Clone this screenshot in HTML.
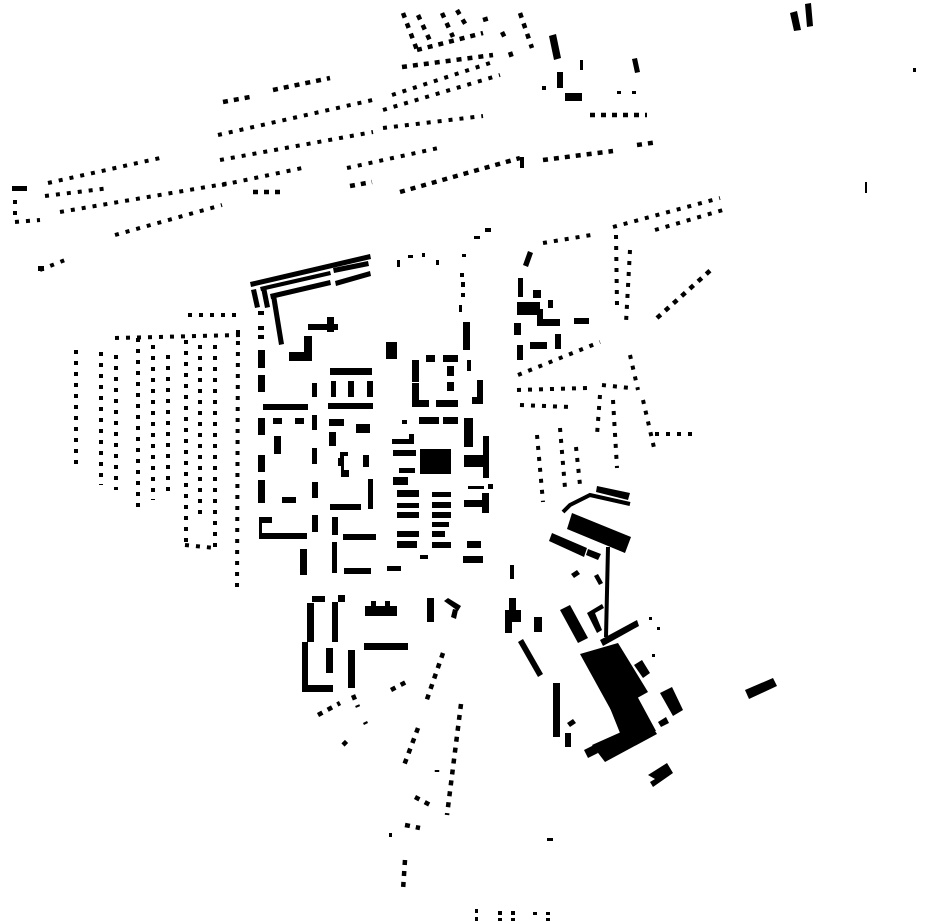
<!DOCTYPE html>
<html><head><meta charset="utf-8"><style>
html,body{margin:0;padding:0;background:#fff;}
svg{display:block}
.d{fill:none;stroke:#000;stroke-width:4.5;stroke-dasharray:5 6}
.s{fill:none;stroke:#000;stroke-width:4;stroke-dasharray:4 7}
.l{fill:none;stroke:#000;stroke-width:4}
</style></head><body>
<svg width="930" height="924" viewBox="0 0 930 924" xmlns="http://www.w3.org/2000/svg">
<g fill="#000">
<polygon points="790,13 797,11 801,30 794,31"/>
<polygon points="805,4 811,3 813,26 807,27"/>
<rect x="913" y="68" width="3" height="4"/>
<rect x="865" y="182" width="2" height="11"/>

<polygon points="549,36 556,34 561,58 554,60"/>
<rect x="557" y="72" width="6" height="16"/>
<rect x="565" y="93" width="17" height="8"/>
<rect x="580" y="60" width="3" height="10"/>
<polygon points="632,59 637,58 640,72 635,73"/>
<rect x="542" y="86" width="4" height="4"/>
<rect x="617" y="91" width="4" height="3"/><rect x="632" y="91" width="4" height="3"/>
<rect x="520" y="157" width="4" height="11"/>

<polygon points="250,282 370,254 371,259 251,287"/>
<polygon points="260,287 330,271 331,275 261,291"/>
<polygon points="333,268 368,261 369,266 334,273"/>
<polygon points="270,294 330,280 331,285 271,299"/>
<polygon points="335,281 370,271 371,276 336,286"/>
<polygon points="251,290 256,289 260,307 255,308"/>
<polygon points="261,288 266,287 270,307 265,308"/>
<polygon points="271,296 276,295 284,344 279,345"/>

<rect x="258" y="311" width="6" height="4"/><rect x="258" y="326" width="6" height="4"/><rect x="258" y="335" width="6" height="4"/>
<rect x="258" y="350" width="7" height="18"/><rect x="258" y="375" width="7" height="17"/>
<rect x="258" y="418" width="7" height="17"/><rect x="258" y="455" width="7" height="17"/><rect x="258" y="480" width="7" height="23"/>
<rect x="259" y="517" width="13" height="6"/><rect x="259" y="517" width="3" height="20"/><rect x="259" y="533" width="48" height="6"/>
<rect x="308" y="324" width="30" height="6"/><rect x="327" y="317" width="7" height="15"/>
<rect x="289" y="352" width="23" height="9"/><rect x="304" y="336" width="8" height="25"/>
<rect x="386" y="342" width="11" height="17"/>
<rect x="330" y="368" width="42" height="7"/>
<rect x="331" y="381" width="5" height="16"/><rect x="348" y="381" width="6" height="16"/><rect x="367" y="381" width="6" height="16"/>
<rect x="328" y="403" width="45" height="6"/>
<rect x="263" y="404" width="45" height="6"/>
<rect x="312" y="383" width="5" height="14"/>
<rect x="273" y="418" width="9" height="6"/><rect x="295" y="418" width="9" height="6"/><rect x="312" y="415" width="5" height="15"/>
<rect x="329" y="419" width="15" height="7"/><rect x="356" y="424" width="14" height="9"/>
<rect x="329" y="432" width="7" height="14"/><rect x="274" y="436" width="7" height="18"/>
<rect x="312" y="448" width="5" height="16"/>
<polygon points="340,452 348,452 348,456 344,456 344,470 349,470 349,477 341,477 341,466 338,466 338,458 340,458"/>
<rect x="363" y="455" width="6" height="12"/>
<rect x="368" y="479" width="5" height="30"/>
<rect x="330" y="504" width="31" height="6"/>
<rect x="282" y="497" width="14" height="6"/>
<rect x="312" y="482" width="6" height="16"/><rect x="312" y="515" width="6" height="17"/>
<rect x="332" y="517" width="6" height="18"/><rect x="343" y="534" width="33" height="6"/>
<rect x="300" y="549" width="7" height="26"/><rect x="332" y="542" width="5" height="31"/>
<rect x="344" y="568" width="27" height="6"/><rect x="387" y="566" width="14" height="5"/>
<rect x="420" y="555" width="8" height="4"/>

<rect x="460" y="273" width="4" height="4"/><rect x="461" y="282" width="4" height="5"/><rect x="461" y="293" width="4" height="4"/><rect x="459" y="305" width="3" height="7"/>
<rect x="463" y="322" width="7" height="28"/><rect x="467" y="360" width="4" height="11"/>
<rect x="412" y="360" width="7" height="22"/><rect x="412" y="383" width="7" height="24"/><rect x="412" y="400" width="17" height="7"/>
<rect x="426" y="355" width="9" height="7"/><rect x="443" y="355" width="15" height="7"/>
<rect x="447" y="366" width="7" height="10"/><rect x="447" y="382" width="7" height="9"/>
<rect x="436" y="400" width="22" height="7"/>
<rect x="477" y="380" width="6" height="18"/><rect x="472" y="397" width="11" height="7"/>
<rect x="419" y="417" width="20" height="7"/><rect x="443" y="417" width="15" height="7"/><rect x="402" y="420" width="5" height="4"/>
<rect x="464" y="418" width="9" height="29"/>
<rect x="392" y="439" width="22" height="5"/><rect x="409" y="434" width="5" height="10"/>
<rect x="393" y="450" width="23" height="6"/>
<rect x="420" y="449" width="31" height="25"/>
<rect x="399" y="468" width="16" height="5"/>
<rect x="464" y="455" width="24" height="12"/><rect x="483" y="436" width="6" height="42"/>
<rect x="393" y="477" width="15" height="8"/>
<rect x="397" y="490" width="22" height="7"/><rect x="432" y="492" width="19" height="5"/>
<rect x="397" y="503" width="22" height="5"/><rect x="432" y="502" width="19" height="6"/>
<rect x="397" y="512" width="22" height="6"/><rect x="432" y="512" width="19" height="6"/>
<rect x="432" y="522" width="17" height="5"/>
<rect x="397" y="531" width="22" height="6"/><rect x="432" y="531" width="13" height="6"/>
<rect x="397" y="541" width="20" height="7"/><rect x="432" y="542" width="19" height="6"/>
<rect x="468" y="486" width="16" height="3"/><rect x="488" y="484" width="5" height="5"/>
<rect x="464" y="500" width="18" height="7"/><rect x="482" y="493" width="7" height="20"/>
<rect x="467" y="541" width="14" height="7"/><rect x="463" y="556" width="20" height="7"/>
<rect x="397" y="260" width="3" height="7"/><rect x="408" y="255" width="5" height="3"/><rect x="422" y="253" width="3" height="4"/><rect x="436" y="260" width="3" height="5"/>
<rect x="462" y="254" width="4" height="3"/><rect x="474" y="236" width="6" height="3"/><rect x="485" y="228" width="6" height="4"/>

<rect x="312" y="596" width="13" height="6"/><rect x="307" y="603" width="7" height="39"/>
<rect x="338" y="595" width="7" height="7"/><rect x="332" y="602" width="6" height="40"/>
<rect x="302" y="642" width="6" height="50"/><rect x="302" y="685" width="31" height="7"/>
<rect x="326" y="648" width="7" height="25"/><rect x="348" y="650" width="7" height="38"/>
<rect x="365" y="606" width="32" height="10"/><rect x="371" y="601" width="5" height="6"/><rect x="385" y="601" width="5" height="6"/>
<rect x="364" y="643" width="44" height="7"/>
<rect x="427" y="598" width="7" height="24"/>
<polygon points="444,601 448,598 461,606 458,611"/>
<polygon points="453,609 458,610 456,619 451,617"/>
<rect x="510" y="565" width="4" height="14"/>
<rect x="509" y="598" width="7" height="14"/><rect x="505" y="610" width="16" height="12"/><rect x="505" y="620" width="7" height="13"/>
<rect x="534" y="617" width="8" height="15"/>
<polygon points="518,642 523,639 543,674 538,677"/>
<rect x="553" y="683" width="7" height="54"/>
<rect x="565" y="733" width="6" height="14"/>
<polygon points="567,723 573,719 576,723 570,727"/>

<polygon points="597,486 630,493 628,500 596,492"/>
<polygon points="572,513 631,537 625,553 567,529"/>
<polygon points="552,533 587,548 584,557 549,541"/>
<polygon points="588,549 601,554 598,560 586,555"/>
<polygon points="571,574 577,570 580,574 574,578"/>
<polygon points="594,576 598,574 603,583 599,585"/>
<polygon points="560,610 570,605 588,638 578,643"/>
<polygon points="587,613 602,604 604,608 595,613 602,630 597,633"/>
<polygon points="600,640 637,620 639,626 603,646"/>
<polygon points="580,654 618,643 648,692 612,712"/>
<polygon points="610,708 636,694 656,731 620,733"/>
<polygon points="592,745 648,720 657,734 605,762"/>
<polygon points="584,750 594,745 598,753 588,758"/>
<polygon points="634,665 642,660 650,673 643,678"/>
<polygon points="660,693 672,687 683,710 673,716"/>
<polygon points="658,722 666,717 669,723 661,727"/>
<rect x="649" y="617" width="3" height="3"/><rect x="652" y="654" width="3" height="3"/><rect x="657" y="627" width="3" height="3"/>
<polygon points="648,775 667,763 673,773 653,787 650,782 655,779"/>
<polygon points="745,690 773,678 777,686 749,699"/>

<polygon points="523,265 528,251 533,253 528,267"/>
<rect x="518" y="278" width="5" height="19"/><rect x="533" y="290" width="8" height="8"/><rect x="548" y="300" width="5" height="8"/>
<rect x="517" y="302" width="23" height="13"/><rect x="537" y="309" width="6" height="16"/><rect x="537" y="319" width="23" height="7"/>
<rect x="574" y="318" width="15" height="6"/>
<rect x="514" y="323" width="7" height="12"/><rect x="517" y="345" width="6" height="15"/>
<rect x="530" y="342" width="17" height="7"/><rect x="555" y="334" width="6" height="15"/>

<rect x="475" y="909" width="3" height="4"/><rect x="475" y="917" width="3" height="4"/>
<rect x="498" y="911" width="4" height="4"/><rect x="498" y="918" width="4" height="3"/>
<rect x="511" y="911" width="4" height="4"/><rect x="511" y="918" width="4" height="3"/>
<rect x="533" y="912" width="4" height="3"/><rect x="546" y="912" width="4" height="3"/><rect x="546" y="918" width="4" height="3"/>
<rect x="547" y="838" width="6" height="3"/>
<rect x="389" y="833" width="3" height="4"/>
<rect x="12" y="186" width="15" height="5"/>
<rect x="38" y="266" width="6" height="5"/>
</g>

<path class="l" d="M563,512 L570,505 L590,495 L630,504" stroke-width="2"/>
<path class="l" d="M608,547 L606,637" stroke-width="2.5"/>
<g>
<path class="d" d="M223,102 L250,97"/>
<path class="d" d="M273,90 L330,78"/>
<path class="s" d="M218,135 L377,99 M392,95 L490,63"/>
<path class="s" d="M220,160 L373,132 M383,128 L483,116"/>
<path class="s" d="M383,110 L500,75"/>
<path class="s" d="M222,185 L307,167 M347,168 L443,147"/>
<path class="d" d="M253,192 L283,192"/>
<path class="d" d="M350,186 L372,182"/>
<path class="d" d="M400,192 L520,158" stroke-width="5"/>
<path class="d" d="M543,160 L613,151 M637,145 L658,142"/>
<path class="d" d="M402,67 L493,55"/>
<path class="d" d="M417,50 L483,33"/>
<path class="d" d="M403,13 L417,50 M418,15 L432,45 M442,13 L453,37 M457,10 L467,27 M520,13 L532,48"/>
<path class="d" d="M483,20 L493,17 M502,32 L506,40 M510,52 L512,58"/>
<path class="d" d="M590,115 L647,115"/>
<path class="s" d="M48,183 L160,158"/>
<path class="s" d="M15,200 L15,215 M15,222 L40,220"/>
<path class="s" d="M45,196 L110,188"/>
<path class="s" d="M60,212 L230,183"/>
<path class="s" d="M115,235 L222,205"/>
<path class="s" d="M40,270 L70,258"/>
<path class="s" d="M76,350 L76,470 M101,352 L101,485 M116,355 L116,490 M138,338 L138,508 M153,345 L153,500 M168,355 L168,495 M186,340 L186,545 M200,345 L200,520 M215,345 L215,548 M238,330 L237,590"/>
<path class="s" d="M115,338 L240,335 M188,315 L242,315 M185,545 L215,548"/>
<path class="s" d="M543,243 L597,234 M613,227 L720,198 M655,230 L723,210"/>
<path class="s" d="M616,235 L617,305 M630,250 L626,323"/>
<path class="d" d="M657,318 L713,268"/>
<path class="s" d="M518,375 L600,342 M517,390 L587,388 M602,385 L630,388"/>
<path class="s" d="M600,395 L597,435 M613,400 L617,468 M560,428 L565,488 M576,447 L580,485 M537,435 L543,502 M520,405 L570,407"/>
<path class="s" d="M643,400 L655,452 M655,434 L692,434 M630,355 L638,390"/>
<path class="d" d="M443,653 L425,705 M418,728 L403,768"/>
<path class="d" d="M461,704 L447,815"/>
<path class="d" d="M391,690 L410,680"/>
<path class="d" d="M353,695 L358,707 M318,715 L340,703 M365,722 L366,724 M343,745 L349,739"/>
<path class="d" d="M415,797 L434,807 M437,770 L437,772"/>
<path class="d" d="M405,860 L403,890"/>
<path class="d" d="M405,825 L420,828"/>
</g>
</svg>
</body></html>
